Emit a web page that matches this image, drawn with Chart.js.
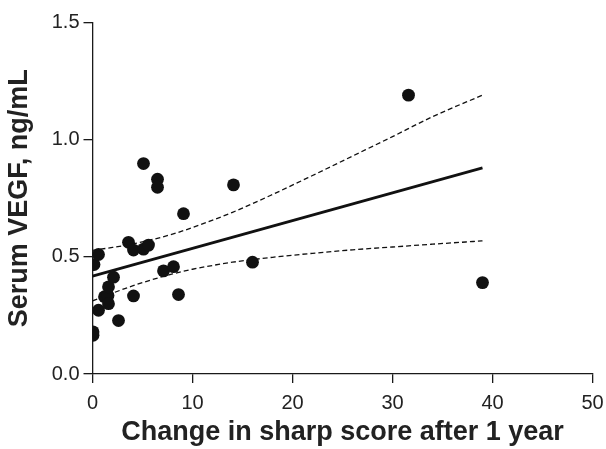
<!DOCTYPE html>
<html>
<head>
<meta charset="utf-8">
<script src="https://cdn.jsdelivr.net/npm/chart.js@4/dist/chart.umd.min.js"></script>
<style>
html,body{margin:0;padding:0;background:#fff;}
#c{display:block;}
</style>
</head>
<body>
<canvas id="c" width="606" height="449"></canvas>
<script>
// Observed data points (change in Sharp score, serum VEGF)
const sharpChange = [0.05, 0.05, 0.15, 0.6, 0.6, 1.2, 1.55, 1.6, 1.6, 2.1, 2.6, 3.6, 4.1, 4.1, 5.1, 5.1, 5.6, 6.5, 6.5, 7.1, 8.1, 8.6, 9.1, 14.1, 16.0, 31.6, 39.0];
const serumVEGF   = [0.165, 0.18, 0.467, 0.51, 0.272, 0.33, 0.335, 0.372, 0.300, 0.413, 0.228, 0.562, 0.529, 0.333, 0.533, 0.898, 0.55, 0.831, 0.797, 0.44, 0.458, 0.339, 0.684, 0.807, 0.477, 1.19, 0.39];

// Regression line (read at its ends)
const fitX = [0, 39];
const fitY = [0.418, 0.880];

// Confidence band curves
const bandX     = [0, 2, 4, 6, 8, 10, 14, 18, 22, 26, 30, 34, 39];
const bandUpper = [0.528, 0.540, 0.555, 0.574, 0.597, 0.625, 0.690, 0.766, 0.847, 0.930, 1.013, 1.098, 1.19];
const bandLower = [0.312, 0.345, 0.376, 0.403, 0.427, 0.447, 0.477, 0.498, 0.515, 0.530, 0.542, 0.554, 0.568];

// Axis ticks
const xTicks = [0, 10, 20, 30, 40, 50];
const yTicks = [0.0, 0.5, 1.0, 1.5];

const toPts = (xs, ys) => xs.map((x, i) => ({x: x, y: ys[i]}));

const axisColor = '#1a1a1a';
const tickFont = {family: '"Liberation Sans", Arial, sans-serif', size: 20};
const titleFont = {family: '"Liberation Sans", Arial, sans-serif', size: 27, weight: 'bold'};

new Chart(document.getElementById('c'), {
  type: 'scatter',
  data: {
    datasets: [
      {
        label: 'points',
        data: toPts(sharpChange, serumVEGF),
        backgroundColor: '#111',
        borderColor: '#111',
        pointRadius: 6.4,
        pointHoverRadius: 6.4,
        borderWidth: 0,
        order: 0
      },
      {
        label: 'fit',
        data: toPts(fitX, fitY),
        showLine: true,
        borderColor: '#111',
        borderWidth: 2.8,
        pointRadius: 0,
        fill: false,
        order: 1
      },
      {
        label: 'upper',
        data: toPts(bandX, bandUpper),
        showLine: true,
        borderColor: '#111',
        borderWidth: 1.3,
        borderDash: [5, 3],
        pointRadius: 0,
        cubicInterpolationMode: 'monotone',
        fill: false,
        order: 2
      },
      {
        label: 'lower',
        data: toPts(bandX, bandLower),
        showLine: true,
        borderColor: '#111',
        borderWidth: 1.3,
        borderDash: [5, 3],
        pointRadius: 0,
        cubicInterpolationMode: 'monotone',
        fill: false,
        order: 3
      }
    ]
  },
  options: {
    responsive: false,
    animation: false,
    devicePixelRatio: 1,
    layout: {padding: {top: 22.5, right: 13.5, bottom: 0, left: 0}},
    plugins: {legend: {display: false}, tooltip: {enabled: false}},
    scales: {
      x: {
        type: 'linear',
        min: 0, max: 50,
        afterBuildTicks: (s) => { s.ticks = xTicks.map(v => ({value: v})); },
        ticks: {color: '#222', font: tickFont, padding: 8, maxRotation: 0},
        grid: {drawOnChartArea: false, drawTicks: true, tickLength: 9, color: axisColor, lineWidth: 1.3},
        border: {color: axisColor, width: 1.3},
        title: {display: true, text: 'Change in sharp score after 1 year', color: '#222', font: titleFont, padding: {top: 0, bottom: 0}},
        afterFit: (s) => { s.height = 75; s.paddingRight = 0; s.paddingLeft = 0; }
      },
      y: {
        type: 'linear',
        min: 0, max: 1.5,
        afterBuildTicks: (s) => { s.ticks = yTicks.map(v => ({value: v})); },
        ticks: {color: '#222', font: tickFont, padding: 4, callback: (v) => Number(v).toFixed(1)},
        grid: {drawOnChartArea: false, drawTicks: true, tickLength: 9, color: axisColor, lineWidth: 1.3},
        border: {color: axisColor, width: 1.3},
        title: {display: true, text: 'Serum VEGF, ng/mL', color: '#222', font: titleFont, padding: {top: 3, bottom: 0}},
        afterFit: (s) => { s.width = 92.5; s.paddingTop = 0; s.paddingBottom = 0; }
      }
    }
  }
});
</script>
</body>
</html>
